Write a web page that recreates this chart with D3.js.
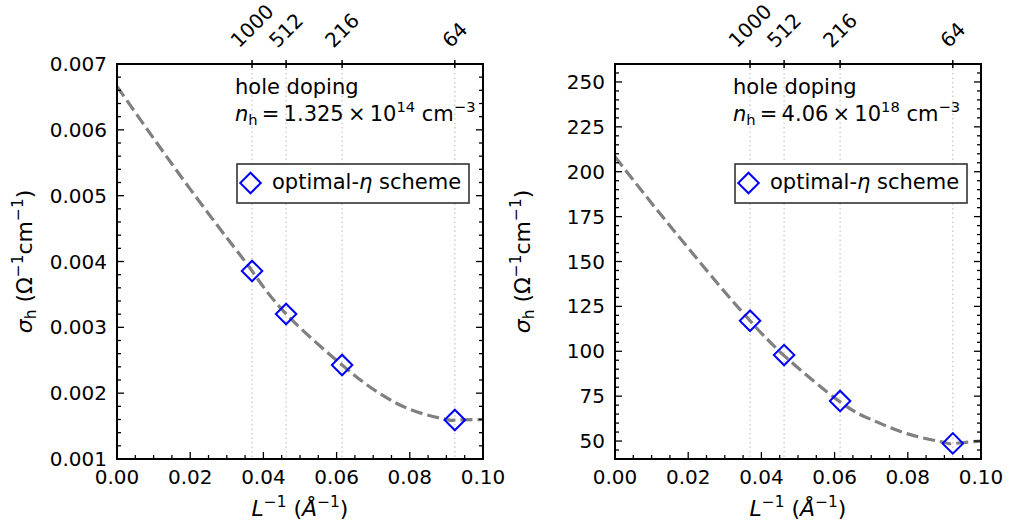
<!DOCTYPE html>
<html>
<head>
<meta charset="utf-8">
<script src="https://d3js.org/d3.v7.min.js"></script>
<style>
  body { margin: 0; background: #fff; }
  text { font-family: "DejaVu Sans", sans-serif; fill: #000; }
</style>
</head>
<body>
<svg width="1013" height="527"></svg>
<script>
// inverse cell length for the supercells, and their atom counts (top axis)
var invL = [0.0369, 0.0462, 0.0615, 0.0923];
var cellLabels = ["1000", "512", "216", "64"];

// conductivity from the optimal-eta scheme
var sigmaLow = [0.003856, 0.003203, 0.002428, 0.001592];
var sigmaHigh = [117.0, 97.9, 72.3, 48.7];

// dashed fit curve
var fitX = [0, 0.01, 0.02, 0.03, 0.0369, 0.0462, 0.0615, 0.07, 0.08, 0.09, 0.0923, 0.1];
var fitLow = [0.00666, 0.00587, 0.00510, 0.00436, 0.003856, 0.003203, 0.002428, 0.00206, 0.001755, 0.00160, 0.00159, 0.00160];
var fitHigh = [208.4, 182.5, 157.5, 133.0, 117.0, 97.6, 71.8, 62.0, 54.0, 49.2, 48.6, 50.0];

var xTicks = [0, 0.02, 0.04, 0.06, 0.08, 0.1];
var yTicksLow = [0.001, 0.002, 0.003, 0.004, 0.005, 0.006, 0.007];
var yTicksHigh = [50, 75, 100, 125, 150, 175, 200, 225, 250];

var svg = d3.select("svg");
var fs = 20;     // tick labels
var fsT = 21;    // annotation + legend
var fsL = 22;    // axis labels

function drawPanel(left, yDomain, yTicks, yMinorStep, yFmt, sig, fit, dens, dexp) {
  var top = 64, bottom = 459, right = left + 366;
  var x = d3.scaleLinear().domain([0, 0.1]).range([left, right]);
  var y = d3.scaleLinear().domain(yDomain).range([bottom, top]);
  var g = svg.append("g");

  // dotted guides at the supercell sizes
  g.selectAll(".guide").data(invL).enter().append("line")
    .attr("x1", d => x(d)).attr("x2", d => x(d))
    .attr("y1", top).attr("y2", bottom)
    .attr("stroke", "#c4c4c4").attr("stroke-width", 1.2)
    .attr("stroke-dasharray", "1.5,3");

  // fitted curve
  var line = d3.line().x(d => x(d[0])).y(d => y(d[1])).curve(d3.curveNatural);
  g.append("path").datum(fitX.map((v, i) => [v, fit[i]]))
    .attr("d", line).attr("fill", "none")
    .attr("stroke", "#808080").attr("stroke-width", 3.2)
    .attr("stroke-dasharray", "12,5");

  // markers
  var diamond = d3.symbol().type(d3.symbolSquare).size(210);
  g.selectAll(".pt").data(invL).enter().append("path")
    .attr("d", diamond())
    .attr("transform", (d, i) => "translate(" + x(d) + "," + y(sig[i]) + ") rotate(45)")
    .attr("fill", "none").attr("stroke", "#0000ff").attr("stroke-width", 2);

  // minor / major ticks (inside)
  var xMinor = d3.range(0, 0.1001, 0.005);
  g.selectAll(".xm").data(xMinor).enter().append("line")
    .attr("x1", d => x(d)).attr("x2", d => x(d))
    .attr("y1", bottom).attr("y2", d => bottom - (Math.abs(d / 0.02 - Math.round(d / 0.02)) < 1e-6 ? 7 : 4))
    .attr("stroke", "#000").attr("stroke-width", 1.3);

  var yMinor = d3.range(Math.ceil(yDomain[0] / yMinorStep - 1e-6) * yMinorStep, yDomain[1] + yMinorStep * 0.01, yMinorStep);
  var isMajor = d => yTicks.some(t => Math.abs(t - d) < yMinorStep * 0.01);
  [left, right].forEach(function(sx, k) {
    g.selectAll(".ym" + k).data(yMinor).enter().append("line")
      .attr("x1", sx).attr("x2", d => sx + (k === 0 ? 1 : -1) * (isMajor(d) ? 7 : 4))
      .attr("y1", d => y(d)).attr("y2", d => y(d))
      .attr("stroke", "#000").attr("stroke-width", 1.3);
  });

  // top axis ticks (in and out)
  g.selectAll(".tt").data(invL).enter().append("line")
    .attr("x1", d => x(d)).attr("x2", d => x(d))
    .attr("y1", top - 4).attr("y2", top + 4)
    .attr("stroke", "#000").attr("stroke-width", 1.5);

  // frame
  g.append("rect").attr("x", left).attr("y", top)
    .attr("width", right - left).attr("height", bottom - top)
    .attr("fill", "none").attr("stroke", "#000").attr("stroke-width", 2);

  // tick labels
  g.selectAll(".xl").data(xTicks).enter().append("text")
    .attr("x", d => x(d)).attr("y", bottom + 25)
    .attr("text-anchor", "middle").attr("font-size", fs)
    .text(d => d3.format(".2f")(d));
  g.selectAll(".yl").data(yTicks).enter().append("text")
    .attr("x", left - 10).attr("y", d => y(d) + 7)
    .attr("text-anchor", "end").attr("font-size", fs)
    .text(yFmt);

  // rotated top labels, bounding box centred on the tick
  g.selectAll(".tl").data(invL).enter().append("text")
    .attr("text-anchor", "middle").attr("dominant-baseline", "central")
    .attr("font-size", fs)
    .text((d, i) => cellLabels[i])
    .attr("transform", function(d) {
      var w = this.getComputedTextLength();
      var h = (w + 0.73 * fs) / Math.SQRT2;
      return "translate(" + x(d) + "," + (top - 15 - h / 2) + ") rotate(-45)";
    });

  // axis labels
  var xl = g.append("text").attr("x", (left + right) / 2).attr("y", bottom + 57)
    .attr("text-anchor", "middle").attr("font-size", fsL);
  xl.append("tspan").attr("font-style", "italic").text("L");
  xl.append("tspan").attr("font-size", fsL * 0.7).attr("dy", -9).text("\u22121");
  xl.append("tspan").attr("dy", 9).text(" (");
  xl.append("tspan").attr("font-style", "italic").text("\u00C5");
  xl.append("tspan").attr("font-size", fsL * 0.7).attr("dy", -9).text("\u22121");
  xl.append("tspan").attr("dy", 9).text(")");

  var yl = g.append("text").attr("text-anchor", "middle").attr("font-size", fsL)
    .attr("transform", "translate(" + (left - 85) + "," + ((top + bottom) / 2) + ") rotate(-90)");
  yl.append("tspan").attr("font-style", "italic").text("\u03C3");
  yl.append("tspan").attr("font-size", fsL * 0.7).attr("dy", 4).text("h");
  yl.append("tspan").attr("dy", -4).text(" (\u03A9");
  yl.append("tspan").attr("font-size", fsL * 0.7).attr("dy", -9).text("\u22121");
  yl.append("tspan").attr("dy", 9).text("cm");
  yl.append("tspan").attr("font-size", fsL * 0.7).attr("dy", -9).text("\u22121");
  yl.append("tspan").attr("dy", 9).text(")");

  // annotation
  var ax = left + 118;
  g.append("text").attr("x", ax).attr("y", 94).attr("font-size", fsT).text("hole doping");
  var t2 = g.append("text").attr("x", ax).attr("y", 121).attr("font-size", fsT);
  t2.append("tspan").attr("font-style", "italic").text("n");
  t2.append("tspan").attr("font-size", fsT * 0.7).attr("dy", 4).text("h");
  t2.append("tspan").attr("dy", -4).text("\u2009=\u2009" + dens + "\u2009\u00D7\u200910");
  t2.append("tspan").attr("font-size", fsT * 0.7).attr("dy", -9).text(dexp);
  t2.append("tspan").attr("dy", 9).text(" cm");
  t2.append("tspan").attr("font-size", fsT * 0.7).attr("dy", -9).text("\u22123");

  // legend
  var lx = right - 14 - 232, ly = 164;
  g.append("rect").attr("x", lx).attr("y", ly).attr("width", 232).attr("height", 39)
    .attr("fill", "#fff").attr("stroke", "#333").attr("stroke-width", 1.6);
  g.append("path").attr("d", diamond())
    .attr("transform", "translate(" + (lx + 13.5) + "," + (ly + 19) + ") rotate(45)")
    .attr("fill", "none").attr("stroke", "#0000ff").attr("stroke-width", 2);
  var lt = g.append("text").attr("x", lx + 35).attr("y", ly + 25).attr("font-size", fsT);
  lt.append("tspan").text("optimal-");
  lt.append("tspan").attr("font-style", "italic").text("\u03B7");
  lt.append("tspan").text(" scheme");
}

drawPanel(117, [0.001, 0.007], yTicksLow, 0.0002, d3.format(".3f"), sigmaLow, fitLow, "1.325", "14");
drawPanel(615, [40, 260], yTicksHigh, 5, d => d, sigmaHigh, fitHigh, "4.06", "18");
</script>
</body>
</html>
